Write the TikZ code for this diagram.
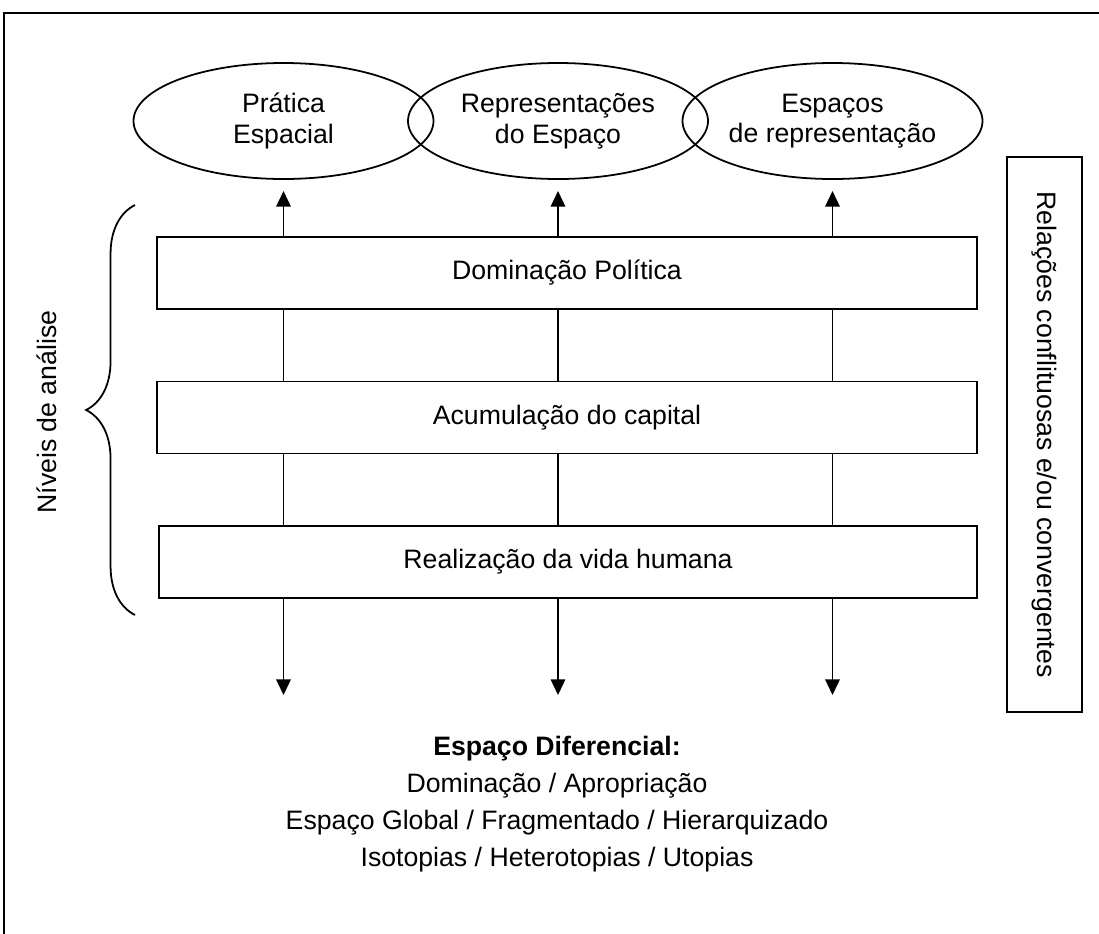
\documentclass[tikz,border=0pt]{standalone}
\usepackage{fontspec}
\setmainfont{Liberation Sans}
\usetikzlibrary{arrows.meta,shapes.geometric,decorations.pathreplacing}

\tikzset{
    elip/.style={draw, ellipse, line width=0.8pt, minimum width=135pt, minimum height=52.2pt, align=center, inner sep=0pt},
    nivel/.style={draw, line width=0.8pt, minimum width=369pt, minimum height=32.4pt},
    seta/.style={-{Triangle[length=7pt,width=6.5pt]}, line width=0.8pt},
}

\begin{document}
\begin{tikzpicture}[x=0.45pt, y=-0.45pt, font=\fontsize{12}{13.8}\selectfont]
    \clip (0,0) rectangle (1099,933);
    \draw[line width=0.8pt] (4,950) -- (4,13) -- (1110,13);

    \node[elip] (pratica) at (283.5,121) {Prática\\Espacial};
    \node[elip] (repr) at (558,121) {Representações\\do Espaço};
    \node[elip] (espacos) at (832.5,121) {Espaços\\de representação};

    \node[nivel] (dom) at (567,273) {Dominação Política};
    \node[nivel] (acu) at (567,417.5) {Acumulação do capital};
    \node[nivel, minimum width=368pt] (vida) at (568,562) {Realização da vida humana};

    \coordinate (fim) at (0,695);

    \foreach \e in {pratica, repr, espacos} {
        \draw[seta] (\e |- dom.north) -- ([yshift=-5pt]\e.south);
        \draw[line width=0.8pt] (\e |- dom.south) -- (\e |- acu.north);
        \draw[line width=0.8pt] (\e |- acu.south) -- (\e |- vida.north);
        \draw[seta] (\e |- vida.south) -- (\e |- fim);
    }

    % chave dos niveis
    \draw[line width=0.8pt, decorate, decoration={brace, amplitude=22pt}] (135,615) -- (135,205);
    \node[rotate=90] (niveis) at (47,412) {Níveis de análise};

    \node[draw, line width=0.8pt, rotate=-90, minimum width=249.75pt, minimum height=33.75pt] (rel) at (1044.5,434.5) {Relações conflituosas e/ou convergentes};

    \node[align=center, font=\fontsize{12}{16.65}\selectfont] (dif) at (557,804) {\textbf{Espaço Diferencial:}\\Dominação / Apropriação\\Espaço Global / Fragmentado / Hierarquizado\\Isotopias / Heterotopias / Utopias};
\end{tikzpicture}
\end{document}
